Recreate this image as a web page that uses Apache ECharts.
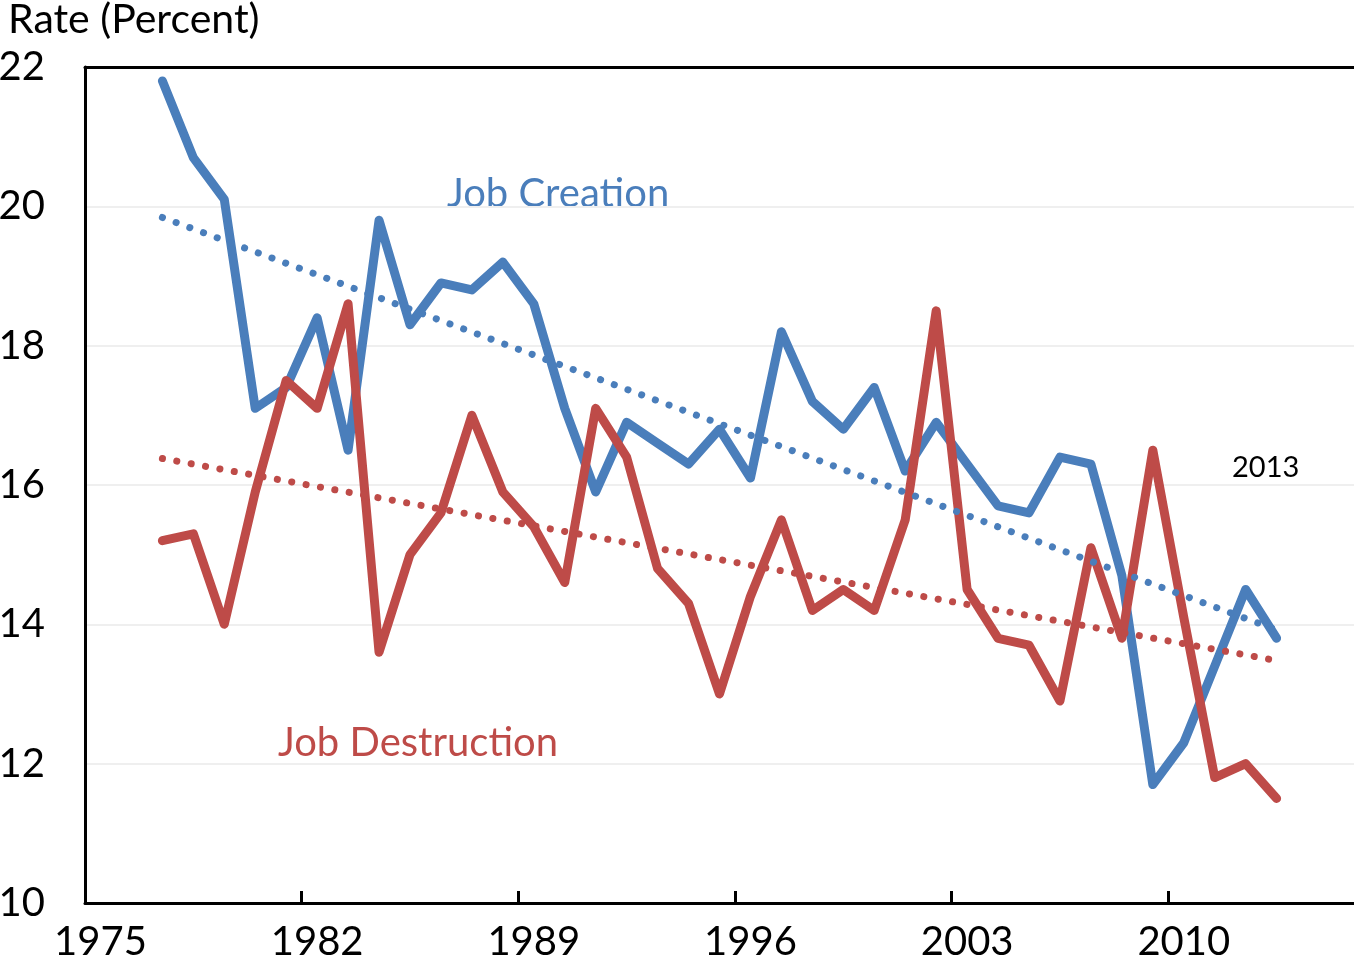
<!DOCTYPE html>
<html>
<head>
<meta charset="utf-8">
<script src="https://cdn.jsdelivr.net/npm/echarts@6/dist/echarts.min.js"></script>
<style>
  html, body { margin: 0; padding: 0; background: #fff; }
  #chart { width: 1354px; height: 966px; }
</style>
</head>
<body>
<div id="chart"></div>
<script>
const years = Array.from({ length: 37 }, (_, i) => 1977 + i)

const jobCreation = [
  21.8, 20.7, 20.1, 17.1, 17.4, 18.4, 16.5, 19.8, 18.3, 18.9,
  18.8, 19.2, 18.6, 17.1, 15.9, 16.9, 16.6, 16.3, 16.8, 16.1,
  18.2, 17.2, 16.8, 17.4, 16.2, 16.9, 16.3, 15.7, 15.6, 16.4,
  16.3, 14.7, 11.7, 12.3, 13.4, 14.5, 13.8
]

const jobDestruction = [
  15.2, 15.3, 14.0, 15.9, 17.5, 17.1, 18.6, 13.6, 15.0, 15.6,
  17.0, 15.9, 15.4, 14.6, 17.1, 16.4, 14.8, 14.3, 13.0, 14.4,
  15.5, 14.2, 14.5, 14.2, 15.5, 18.5, 14.5, 13.8, 13.7, 12.9,
  15.1, 13.8, 16.5, 14.1, 11.8, 12.0, 11.5
]

// trend line end points (1977 and 2013)
const trendYears = [1977, 2013]
const creationTrend = [19.84, 13.92]
const destructionTrend = [16.38, 13.48]

const xTickYears = [1975, 1982, 1989, 1996, 2003, 2010]
const yTicks = [10, 12, 14, 16, 18, 20, 22]

const BLUE = '#4A7EBB'
const RED = '#BE4B48'
const FONT = 'Lato'

// points sit in the middle of each year's slot
const toPoints = (xs, values) => xs.map((year, i) => [year + 0.5, values[i]])

const chart = echarts.init(document.getElementById('chart'), null, { renderer: 'canvas' })

const solidLine = (name, values, color) => ({
  name,
  type: 'line',
  data: toPoints(years, values),
  showSymbol: false,
  silent: true,
  animation: false,
  lineStyle: { color, width: 9, cap: 'round', join: 'round' }
})

const dottedLine = (name, values, color) => ({
  name,
  type: 'line',
  data: toPoints(trendYears, values),
  showSymbol: false,
  silent: true,
  animation: false,
  lineStyle: { color, width: 7, type: [0.1, 14.5], cap: 'round' }
})

chart.setOption({
  backgroundColor: '#fff',
  animation: false,
  grid: { left: 85, right: 0, top: 67, bottom: 63, containLabel: false, outerBoundsMode: 'none' },
  xAxis: [
    {
      type: 'value',
      min: 1975,
      max: 2016,
      interval: 7,
      axisLine: { show: true, lineStyle: { color: '#000', width: 3 } },
      axisTick: {
        show: true,
        inside: true,
        length: 12,
        customValues: xTickYears.slice(1),
        lineStyle: { color: '#000', width: 3 }
      },
      axisLabel: {
        customValues: xTickYears,
        formatter: (value) => String(value),
        color: '#000',
        fontFamily: FONT,
        fontSize: 40,
        margin: 19,
        padding: [0, 0, 0, 31]
      },
      splitLine: { show: false }
    },
    {
      type: 'value',
      position: 'top',
      min: 1975,
      max: 2016,
      axisLine: { show: true, lineStyle: { color: '#000', width: 3 } },
      axisTick: { show: false },
      axisLabel: { show: false },
      splitLine: { show: false }
    }
  ],
  yAxis: {
    type: 'value',
    min: yTicks[0],
    max: yTicks[yTicks.length - 1],
    interval: 2,
    axisLine: { show: true, lineStyle: { color: '#000', width: 3 } },
    axisTick: { show: false },
    axisLabel: { color: '#000', fontFamily: FONT, fontSize: 40, margin: 40 },
    splitLine: { show: true, lineStyle: { color: '#efefef', width: 2 } }
  },
  graphic: [
    { type: 'text', left: 8, top: -1, style: { text: 'Rate (Percent)', fill: '#000', font: `41px ${FONT}` } },
    { type: 'text', left: 447, top: 174, style: { text: 'Job Creation', fill: BLUE, font: `40px ${FONT}` } },
    { type: 'text', left: 278, top: 723, style: { text: 'Job Destruction', fill: RED, font: `40px ${FONT}` } },
    { type: 'text', left: 1232, top: 453, style: { text: '2013', fill: '#000', font: `29px ${FONT}` } }
  ],
  series: [
    solidLine('Job Creation', jobCreation, BLUE),
    solidLine('Job Destruction', jobDestruction, RED),
    dottedLine('Job Creation trend', creationTrend, BLUE),
    dottedLine('Job Destruction trend', destructionTrend, RED)
  ]
})
</script>
</body>
</html>
